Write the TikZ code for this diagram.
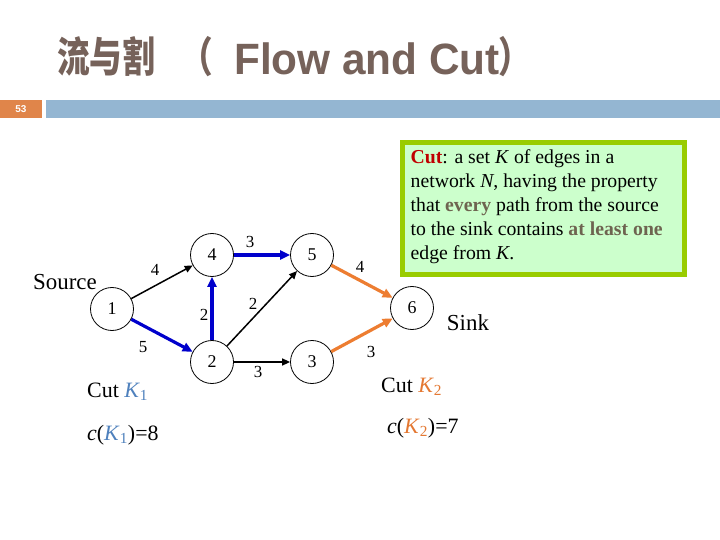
\documentclass[tikz,border=0pt]{standalone}
\usepackage{fontspec}
\setmainfont{Liberation Serif}
\newfontfamily\titlesans{Liberation Sans}
\newfontfamily\cjk{Noto Sans CJK SC}
\usetikzlibrary{arrows.meta}
\definecolor{titlecol}{RGB}{118,98,90}
\definecolor{barblue}{RGB}{148,182,210}
\definecolor{barorange}{RGB}{224,133,74}
\definecolor{cutblue}{RGB}{0,0,204}
\definecolor{cutorange}{RGB}{237,125,49}
\definecolor{kblue}{RGB}{79,129,189}
\definecolor{korange}{RGB}{228,120,50}
\definecolor{boxgreen}{RGB}{153,204,0}
\definecolor{boxfill}{RGB}{204,255,204}
\definecolor{cutred}{RGB}{192,0,0}
\definecolor{emphcol}{RGB}{110,100,80}
\begin{document}
\begin{tikzpicture}[x=1bp,y=-1bp,
  vertex/.style={circle,draw,line width=0.8bp,minimum size=43bp,inner sep=0pt,font=\fontsize{18}{18}\selectfont},
  plainedge/.style={line width=1.5bp,-{Triangle[length=8bp,width=7bp]}},
  blueedge/.style={draw=cutblue,line width=3.2bp,-{Triangle[length=10bp,width=9bp]}},
  orangeedge/.style={draw=cutorange,line width=3.2bp,-{Triangle[length=10bp,width=9bp]}},
  elabel/.style={inner sep=0pt,font=\fontsize{17}{17}\selectfont},
  bigtext/.style={inner sep=0pt,font=\fontsize{22}{22}\selectfont},
  boxline/.style={anchor=base west,inner sep=0pt,font=\fontsize{19.8}{19.8}\selectfont},
  titlecjk/.style={anchor=base west,inner sep=0pt,text=titlecol,xscale=0.78,font=\cjk\bfseries\fontsize{42}{42}\selectfont},
  titlelat/.style={anchor=base west,inner sep=0pt,text=titlecol,xscale=0.965,font=\titlesans\bfseries\fontsize{44}{44}\selectfont}
]
\useasboundingbox[fill=white] (0,0) rectangle (720,540);

% title
\node[titlecjk] (t1) at (57,73) {流与割};
\node[titlecjk] (t2) at (180,73) {（};
\node[titlelat] (t3) at (234,75) {Flow and Cut};
\node[titlecjk] (t4) at (498,73) {）};

% bar
\fill[barorange] (0,100) rectangle (42,118);
\fill[barblue] (46,100) rectangle (720,118);
\node[inner sep=0pt,text=white,font=\titlesans\bfseries\fontsize{10}{10}\selectfont] (num) at (21,109) {53};

% definition box
\draw[boxgreen,line width=5bp,fill=boxfill] (402.5,142.5) rectangle (684.5,274.5);
\node[boxline] (l1) at (410.5,164) {\textcolor{cutred}{\textbf{Cut}}: a set \textit{K} of edges in a};
\node[boxline] (l2) at (410.5,188) {network \textit{N}, having the property};
\node[boxline] (l3) at (410.5,212) {that \textcolor{emphcol}{\textbf{every}} path from the source};
\node[boxline] (l4) at (410.5,236) {to the sink contains \textcolor{emphcol}{\textbf{at least one}}};
\node[boxline] (l5) at (410.5,260) {edge from \textit{K}.};

% vertices
\node[vertex] (n1) at (112,309) {1};
\node[vertex] (n4) at (212,255) {4};
\node[vertex] (n5) at (312,255) {5};
\node[vertex] (n2) at (212,362) {2};
\node[vertex] (n3) at (312,362) {3};
\node[vertex] (n6) at (412,308) {6};

% edges
\draw[plainedge] (n1) -- (n4);
\draw[blueedge] (n1) -- (n2);
\draw[blueedge] (n2) -- (n4);
\draw[blueedge] (n4) -- (n5);
\draw[plainedge] (n2) -- (n5);
\draw[plainedge] (n2) -- (n3);
\draw[orangeedge] (n5) -- (n6);
\draw[orangeedge] (n3) -- (n6);

% edge labels
\node[elabel] (e14) at (155,270) {4};
\node[elabel] (e12) at (143,347) {5};
\node[elabel] (e24) at (204,315) {2};
\node[elabel] (e45) at (250,242) {3};
\node[elabel] (e25) at (253,304) {2};
\node[elabel] (e23) at (258,372) {3};
\node[elabel] (e56) at (360,267) {4};
\node[elabel] (e36) at (371,352) {3};

% other labels
\node[bigtext,font=\fontsize{23}{23}\selectfont] (src) at (65,282) {Source};
\node[bigtext,font=\fontsize{23}{23}\selectfont] (snk) at (468,323) {Sink};
\node[bigtext,anchor=base west] (ck1) at (87,397) {Cut \textcolor{kblue}{\textit{K}\textsubscript{1}}};
\node[bigtext,anchor=base west] (cc1) at (87,440) {\textit{c}(\textcolor{kblue}{\textit{K}\textsubscript{1}})=8};
\node[bigtext,anchor=base west] (ck2) at (381,392) {Cut \textcolor{korange}{\textit{K}\textsubscript{2}}};
\node[bigtext,anchor=base west] (cc2) at (387,433) {\textit{c}(\textcolor{korange}{\textit{K}\textsubscript{2}})=7};
\end{tikzpicture}
\end{document}
